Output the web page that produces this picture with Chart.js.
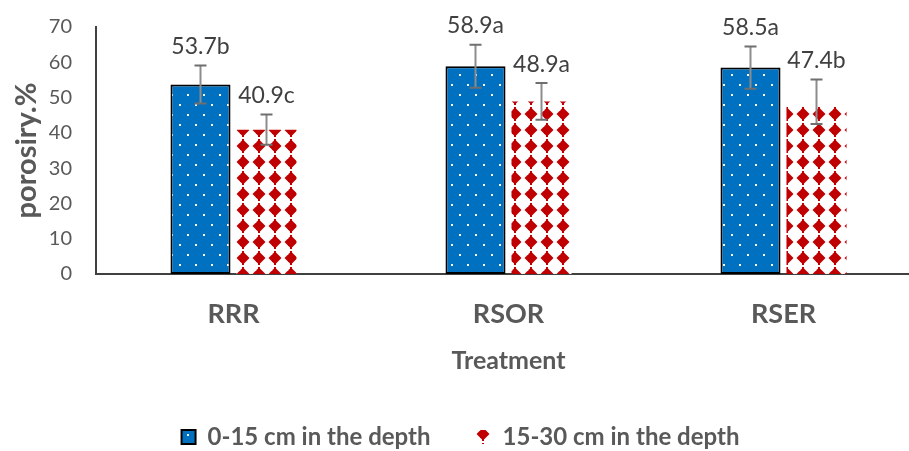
<!DOCTYPE html>
<html>
<head>
<meta charset="utf-8">
<script src="https://cdn.jsdelivr.net/npm/chart.js@4"></script>
<style>
  html, body { margin: 0; padding: 0; background: #fff; overflow: hidden; }
  #wrap { width: 909px; height: 451px; overflow: hidden; }
</style>
</head>
<body>
<div id="wrap"><canvas id="myChart" width="925" height="459"></canvas></div>
<script>
// datos
const categories = ['RRR', 'RSOR', 'RSER'];
const seriesNames = ['0-15 cm in the depth', '15-30 cm in the depth'];
const depth1 = [53.7, 58.9, 58.5];
const depth2 = [40.9, 48.9, 47.4];
const depth1Up = [5.4, 6.1, 6.0];
const depth1Down = [5.4, 6.1, 6.0];
const depth2Up = [4.3, 5.2, 7.7];
const depth2Down = [4.3, 5.2, 4.9];
const depth1Letters = ['b', 'a', 'a'];
const depth2Letters = ['c', 'a', 'b'];

const FONT = 'Lato';

// patron de puntos blancos (al tresbolillo) sobre azul
function dotPattern() {
    const c = document.createElement('canvas');
    c.width = 16; c.height = 20;
    const g = c.getContext('2d');
    g.fillStyle = '#0070C0';
    g.fillRect(0, 0, 16, 20);
    g.fillStyle = '#ffffff';
    g.fillRect(3, 4, 2, 2);
    g.fillRect(11, 14, 2, 2);
    return g.createPattern(c, 'repeat');
}

// patron de rombos rojos
function diamondPattern() {
    const c = document.createElement('canvas');
    c.width = 16; c.height = 16;
    const g = c.getContext('2d');
    g.fillStyle = '#ffffff';
    g.fillRect(0, 0, 16, 16);
    g.fillStyle = '#C00000';
    [-16, 0, 16].forEach(dx => {
        [-16, 0, 16].forEach(dy => {
            const cx = 3 + dx, cy = 2 + dy;
            g.beginPath();
            g.moveTo(cx, cy - 6.5);
            g.lineTo(cx + 6.5, cy);
            g.lineTo(cx, cy + 6.5);
            g.lineTo(cx - 6.5, cy);
            g.closePath();
            g.fill();
            g.fillRect(cx - 1, cy - 7, 2, 14);
        });
    });
    return g.createPattern(c, 'repeat');
}

const errUp = [depth1Up, depth2Up];
const errDown = [depth1Down, depth2Down];
const letters = [depth1Letters, depth2Letters];

// barras de error + etiquetas
const errorBars = {
    id: 'errorBars',
    afterDatasetsDraw(chart) {
        const ctx = chart.ctx;
        const y = chart.scales.y;
        chart.data.datasets.forEach((ds, di) => {
            const meta = chart.getDatasetMeta(di);
            meta.data.forEach((bar, i) => {
                const v = ds.data[i];
                const top = y.getPixelForValue(v + errUp[di][i]);
                const bot = y.getPixelForValue(v - errDown[di][i]);
                const x = bar.x;
                ctx.save();
                ctx.strokeStyle = '#8c8c8c';
                ctx.lineWidth = 2;
                ctx.beginPath();
                ctx.moveTo(x, top);
                ctx.lineTo(x, bot);
                ctx.stroke();
                ctx.strokeStyle = '#6f6f6f';
                ctx.beginPath();
                ctx.moveTo(x - 6, top); ctx.lineTo(x + 6, top);
                ctx.moveTo(x - 6, bot); ctx.lineTo(x + 6, bot);
                ctx.stroke();
                ctx.fillStyle = '#404040';
                ctx.font = '23px ' + FONT;
                ctx.textAlign = 'center';
                ctx.textBaseline = 'middle';
                ctx.fillText(v.toFixed(1) + letters[di][i], x, top - 19);
                ctx.restore();
            });
        });
    }
};

const myChart = document.getElementById('myChart').getContext('2d');

const barChart = new Chart(myChart, {
    type: 'bar',
    data: {
        labels: categories,
        datasets: [{
            label: seriesNames[0],
            data: depth1,
            backgroundColor: dotPattern(),
            borderColor: '#000000',
            borderWidth: 2,
            borderSkipped: false,
            categoryPercentage: 0.48,
            barPercentage: 0.91
        }, {
            label: seriesNames[1],
            data: depth2,
            backgroundColor: diamondPattern(),
            borderWidth: 0,
            categoryPercentage: 0.48,
            barPercentage: 0.91
        }]
    },
    options: {
        responsive: false,
        animation: false,
        layout: {
            padding: { top: 27, left: 0, right: 4, bottom: 0 }
        },
        scales: {
            x: {
                grid: { display: false, drawTicks: false },
                border: { color: '#404040', width: 2 },
                ticks: {
                    padding: 24,
                    color: '#595959',
                    font: { family: FONT, size: 27, weight: 'bold' }
                },
                title: {
                    display: true,
                    text: 'Treatment',
                    color: '#595959',
                    font: { family: FONT, size: 25, weight: 'bold' },
                    padding: { top: 0, bottom: 3 }
                },
                afterFit(scale) { scale.height = 105; }
            },
            y: {
                min: 0,
                max: 70,
                grid: { display: false, drawTicks: false },
                border: { color: '#404040', width: 2 },
                ticks: {
                    stepSize: 10,
                    padding: 24,
                    color: '#595959',
                    font: { family: FONT, size: 20 }
                },
                title: {
                    display: true,
                    text: 'porosiry.%',
                    color: '#595959',
                    font: { family: FONT, size: 29, weight: 'bold' },
                    padding: { top: 9, bottom: 9 }
                },
                afterFit(scale) {
                    scale.width = 96;
                    scale.paddingTop = 0;
                }
            }
        },
        plugins: {
            legend: {
                position: 'bottom',
                labels: {
                    boxWidth: 14,
                    boxHeight: 14,
                    padding: 46,
                    color: '#595959',
                    font: { family: FONT, size: 24, weight: 'bold' }
                }
            },
            tooltip: { enabled: false }
        }
    },
    plugins: [errorBars]
});
</script>
</body>
</html>
